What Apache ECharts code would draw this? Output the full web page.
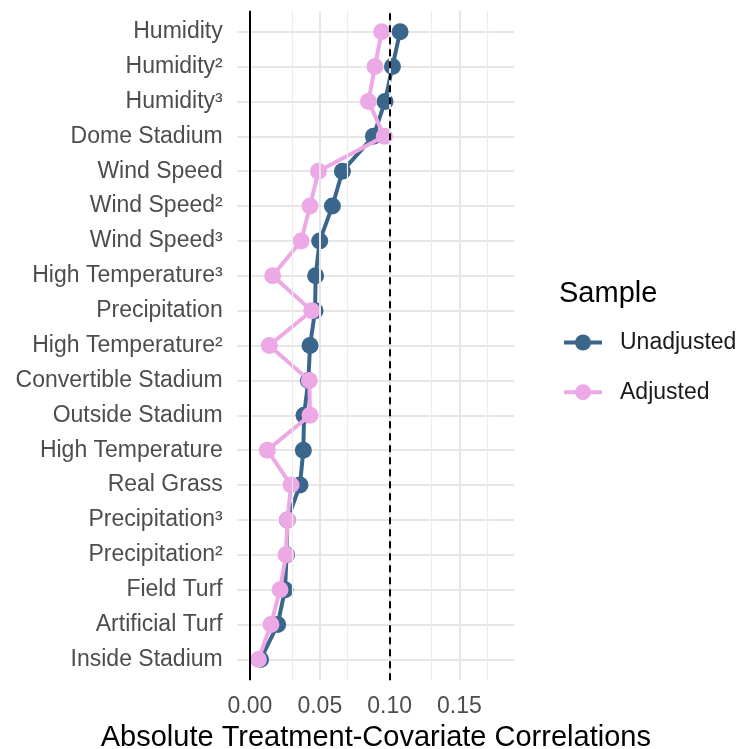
<!DOCTYPE html>
<html>
<head>
<meta charset="utf-8">
<script src="https://cdn.jsdelivr.net/npm/echarts@6/dist/echarts.min.js"></script>
<style>html,body{margin:0;padding:0;background:#fff}#c{width:737px;height:749px}</style>
</head>
<body>
<div id="c"></div>
<script>
const categories = ["Humidity","Humidity²","Humidity³","Dome Stadium","Wind Speed","Wind Speed²","Wind Speed³","High Temperature³","Precipitation","High Temperature²","Convertible Stadium","Outside Stadium","High Temperature","Real Grass","Precipitation³","Precipitation²","Field Turf","Artificial Turf","Inside Stadium"];
const unadjusted = [0.1075,0.1020,0.0967,0.0884,0.0662,0.0590,0.0499,0.0470,0.0466,0.0430,0.0418,0.0387,0.0382,0.0358,0.0268,0.0262,0.0251,0.0198,0.0076];
const adjusted   = [0.0943,0.0895,0.0848,0.0962,0.0490,0.0430,0.0366,0.0162,0.0442,0.0138,0.0425,0.0430,0.0124,0.0294,0.0268,0.0258,0.0215,0.0150,0.0060];
const majorTicks = [0, 0.05, 0.10, 0.15];
const minorTicks = [0.025, 0.075, 0.125, 0.175];
const threshold = 0.1;
const xMin = -0.0091, xMax = 0.1893;

const BLUE = '#3A668C', PINK = '#EDA9E5';
const chart = echarts.init(document.getElementById('c'), null, {renderer:'canvas'});
const font = 'Liberation Sans, Arial, sans-serif';

const gridMarks = [];
minorTicks.forEach(v => gridMarks.push({xAxis: v, lineStyle:{color:'#ececec', width:1.2, type:'solid'}}));
majorTicks.filter(v => v !== 0).forEach(v => gridMarks.push({xAxis: v, lineStyle:{color:'#e6e6e6', width:2, type:'solid'}}));
const refMarks = [
  {xAxis: 0, lineStyle:{color:'#000', width:2, type:'solid'}},
  {xAxis: threshold, lineStyle:{color:'#000', width:2, type:[7,5]}}
];

chart.setOption({
  animation:false,
  backgroundColor:'#fff',
  title:{text:'Sample', left:554, top:274, textStyle:{fontFamily:font, fontSize:29, fontWeight:'normal', color:'#000'}},
  legend:{
    orient:'vertical', left:562, top:331, padding:0, itemWidth:38, itemHeight:20, itemGap:26.7,
    data:['Unadjusted','Adjusted'],
    lineStyle:{width:4},
    textStyle:{fontFamily:font, fontSize:23, color:'#1a1a1a', padding:[0,0,0,13]}
  },
  grid:[
    {left:237.3, top:10.8, width:277, height:669.5, containLabel:false, outerBoundsMode:'none'},
    {left:237.3, top:31.7, width:277, height:627.7, containLabel:false, outerBoundsMode:'none'}
  ],
  xAxis:[
    {type:'value', gridIndex:0, min:xMin, max:xMax,
     axisLine:{show:false}, axisTick:{show:false}, splitLine:{show:false},
     axisLabel:{customValues:majorTicks, formatter:v=>v.toFixed(2), fontFamily:font, fontSize:23, color:'#4d4d4d', margin:15},
     name:'Absolute Treatment-Covariate Correlations', nameLocation:'middle', nameGap:35,
     nameTextStyle:{fontFamily:font, fontSize:29, color:'#000'}},
    {type:'value', gridIndex:1, min:xMin, max:xMax, show:false, splitLine:{show:false}}
  ],
  yAxis:[
    {type:'value', gridIndex:0, min:0, max:1, show:false, splitLine:{show:false}},
    {type:'category', gridIndex:1, data:categories, inverse:true, boundaryGap:false,
     axisLine:{show:false}, axisTick:{show:false},
     axisLabel:{fontFamily:font, fontSize:23, color:'#4d4d4d', margin:14.6, interval:0, padding:[4,0,0,0]},
     splitLine:{show:true, lineStyle:{color:'#e6e6e6', width:2}}}
  ],
  series:[
    {type:'line', xAxisIndex:0, yAxisIndex:0, data:[], silent:true, symbol:'none',
     markLine:{silent:true, symbol:['none','none'], label:{show:false}, data:gridMarks.concat(refMarks)}},
    {name:'Unadjusted', type:'line', xAxisIndex:1, yAxisIndex:1, clip:false,
     data:unadjusted.map((v,i)=>[v, categories[i]]),
     symbol:'circle', symbolSize:17, itemStyle:{color:BLUE}, lineStyle:{color:BLUE, width:4}, z:3},
    {name:'Adjusted', type:'line', xAxisIndex:1, yAxisIndex:1, clip:false,
     data:adjusted.map((v,i)=>[v, categories[i]]),
     symbol:'circle', symbolSize:17, itemStyle:{color:PINK}, lineStyle:{color:PINK, width:4}, z:4}
  ]
});
</script>
</body>
</html>
